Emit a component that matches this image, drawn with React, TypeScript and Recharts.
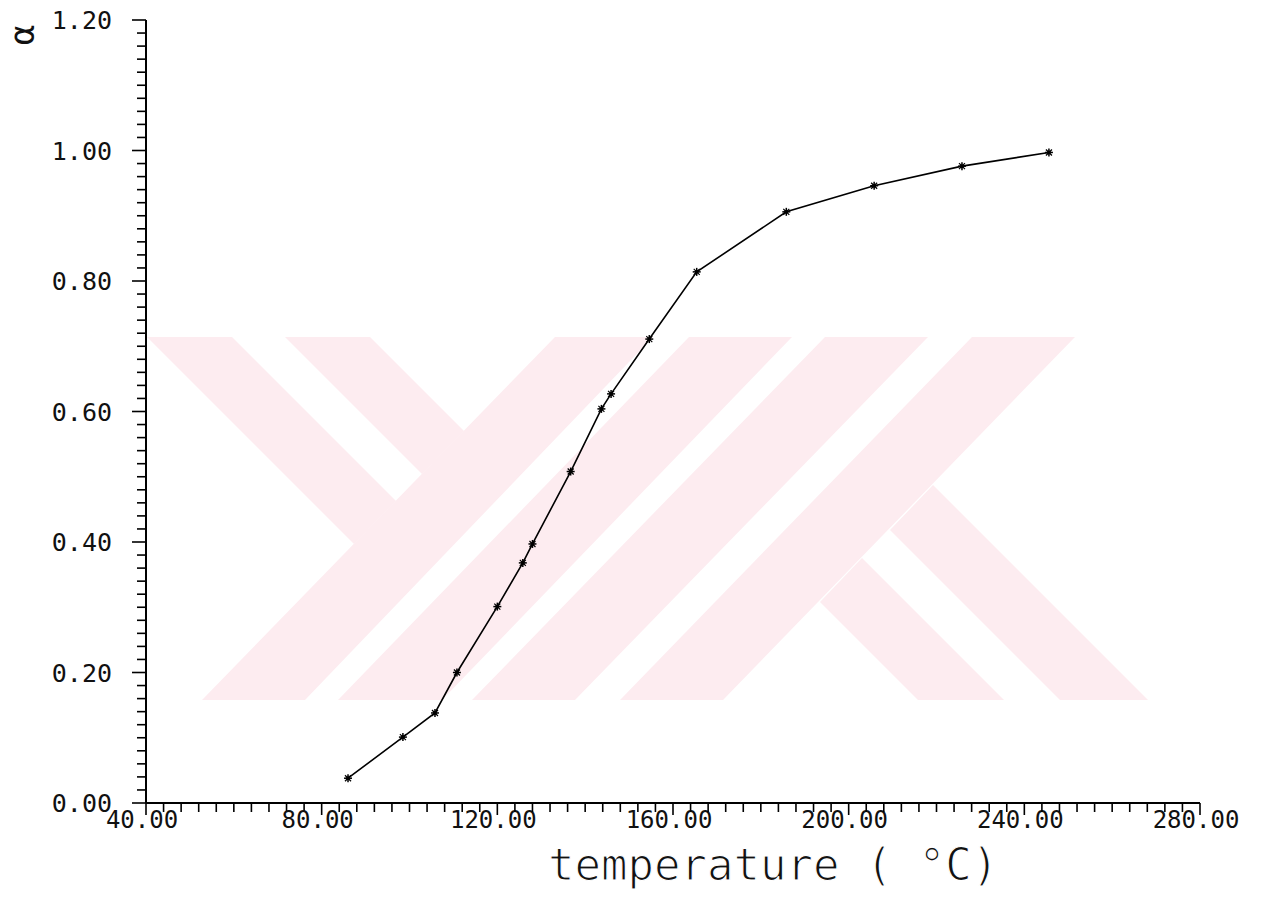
import React from 'react';
import { LineChart, Line, XAxis, YAxis, Label } from 'recharts';

// Data (temperature in °C, conversion α)
const temperature = [86, 98.5, 105.8, 110.8, 120, 125.8, 128, 136.7, 143.7, 145.9, 154.6, 165.4, 185.8, 205.8, 225.8, 245.6];
const alpha = [0.038, 0.101, 0.138, 0.2, 0.301, 0.368, 0.397, 0.508, 0.604, 0.627, 0.711, 0.814, 0.906, 0.946, 0.976, 0.997];

// Axis ticks
const xMajorTicks = [40, 80, 120, 160, 200, 240, 280];
const xMinorStep = 4;
const yMajorTicks = [0, 0.2, 0.4, 0.6, 0.8, 1.0, 1.2];
const yMinorStep = 0.02;

const xLabel = 'temperature ( °C)';
const yLabel = 'α';

const data = temperature.map((t, i) => ({ t, a: alpha[i] }));

const buildTicks = (majors: number[], step: number) => {
  const out: number[] = [];
  const lo = majors[0];
  const hi = majors[majors.length - 1];
  const n = Math.round((hi - lo) / step);
  for (let i = 0; i <= n; i++) out.push(Math.round((lo + i * step) * 1000) / 1000);
  return out;
};
const xTicks = buildTicks(xMajorTicks, xMinorStep);
const yTicks = buildTicks(yMajorTicks, yMinorStep);

const isMajor = (v: number, majors: number[]) => majors.some((m) => Math.abs(m - v) < 1e-6);

const FONT = '"DejaVu Sans Mono", monospace';

const XTick = (props: any) => {
  const { x, y, payload } = props;
  const major = isMajor(payload.value, xMajorTicks);
  return (
    <g>
      <line x1={x} y1={y} x2={x} y2={y + (major ? 12 : 9)} stroke="#000" strokeWidth={1.6} />
      {major && (
        <text x={x - 4} y={y + 25} textAnchor="middle" fontFamily={FONT} fontSize={24} fill="#111">
          {Number(payload.value).toFixed(2)}
        </text>
      )}
    </g>
  );
};

const YTick = (props: any) => {
  const { x, y, payload } = props;
  const major = isMajor(payload.value, yMajorTicks);
  return (
    <g>
      <line x1={x} y1={y} x2={x - (major ? 14 : 9)} y2={y} stroke="#000" strokeWidth={1.6} />
      {major && (
        <text x={x - 34} y={y} dy="0.36em" textAnchor="end" fontFamily={FONT} fontSize={25} fill="#111">
          {Number(payload.value).toFixed(2)}
        </text>
      )}
    </g>
  );
};

const StarDot = (props: any) => {
  const { cx, cy } = props;
  if (cx == null || cy == null) return null;
  const r = 4;
  return (
    <g>
      <line x1={cx - r} y1={cy} x2={cx + r} y2={cy} stroke="#000" strokeWidth={1.5} />
      <line x1={cx} y1={cy - r} x2={cx} y2={cy + r} stroke="#000" strokeWidth={1.5} />
      <line x1={cx - 3} y1={cy - 3} x2={cx + 3} y2={cy + 3} stroke="#000" strokeWidth={1.2} />
      <line x1={cx - 3} y1={cy + 3} x2={cx + 3} y2={cy - 3} stroke="#000" strokeWidth={1.2} />
      <circle cx={cx} cy={cy} r={2} fill="#000" />
    </g>
  );
};

// Background watermark (decoration only)
const watermark = [
  '555,337 653,337 305,700 202,700',
  '147,337 232,337 396,501 354,544',
  '285,337 370,337 464,431 422,474',
  '689,337 792,337 442,700 338,700',
  '825,337 928,337 575,700 472,700',
  '972,337 1075,337 723,700 620,700',
  '918,700 1004,700 862,558 820,602',
  '1060,700 1148,700 933,485 890,530',
];

export default function App() {
  return (
    <div style={{ position: 'absolute', left: 0, top: 0, width: 1262, height: 911, background: '#fff' }}>
      <svg width={1262} height={911} style={{ position: 'absolute', left: 0, top: 0 }}>
        {watermark.map((p, i) => (
          <polygon key={i} points={p} fill="#fdecf0" />
        ))}
      </svg>
      <div style={{ position: 'absolute', left: 0, top: 0 }}>
        <LineChart width={1262} height={911} data={data} margin={{ top: 20, right: 62, left: 0, bottom: 0 }}>
          <XAxis
            dataKey="t"
            type="number"
            domain={[40, 280]}
            ticks={xTicks}
            interval={0}
            height={108}
            tickSize={0}
            tickMargin={0}
            tickLine={false}
            axisLine={{ stroke: '#000', strokeWidth: 2 }}
            tick={<XTick />}
          >
            <Label
              content={(p: any) => {
                const vb = p.viewBox || { x: 146, y: 803 };
                return (
                  <text
                    x={vb.x + 402}
                    y={vb.y + 77}
                    fontFamily={FONT}
                    fontSize={44}
                    fill="#111"
                    stroke="#fff"
                    strokeWidth={1.2}
                  >
                    {xLabel}
                  </text>
                );
              }}
            />
          </XAxis>
          <YAxis
            dataKey="a"
            type="number"
            domain={[0, 1.2]}
            ticks={yTicks}
            interval={0}
            width={146}
            tickSize={0}
            tickMargin={0}
            tickLine={false}
            axisLine={{ stroke: '#000', strokeWidth: 2 }}
            tick={<YTick />}
          >
            <Label
              content={(p: any) => {
                const vb = p.viewBox || { x: 0, y: 20 };
                const cx = vb.x + 22;
                const cy = vb.y + 15;
                return (
                  <text
                    x={cx}
                    y={cy}
                    transform={`rotate(-90 ${cx} ${cy})`}
                    textAnchor="middle"
                    dy="0.35em"
                    fontFamily={FONT}
                    fontSize={34}
                    fill="#111"
                  >
                    {yLabel}
                  </text>
                );
              }}
            />
          </YAxis>
          <Line
            type="linear"
            dataKey="a"
            stroke="#000"
            strokeWidth={1.6}
            dot={<StarDot />}
            activeDot={false}
            isAnimationActive={false}
          />
        </LineChart>
      </div>
    </div>
  );
}
